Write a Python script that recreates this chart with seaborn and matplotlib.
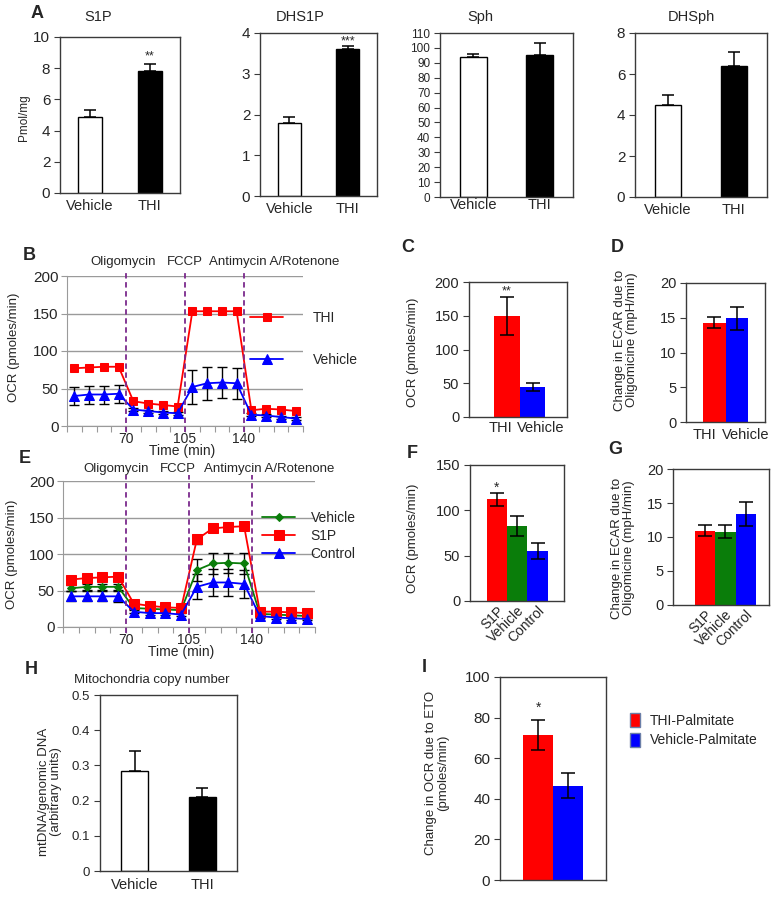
import numpy as np
import pandas as pd
import matplotlib
matplotlib.use("Agg")
import matplotlib.pyplot as plt
from matplotlib.patches import Patch
import seaborn as sns

sns.set_style("white")
plt.rcParams['font.family'] = ['Liberation Sans', 'DejaVu Sans']

W, H = 779, 898

# ==========================================
# DATA
# ==========================================
groups_a = ["Vehicle", "THI"]
s1p_mean = [4.9, 7.8]
s1p_err = [0.4, 0.5]
dhs1p_mean = [1.8, 3.6]
dhs1p_err = [0.15, 0.08]
sph_mean = [94, 95]
sph_err = [2, 8]
dhsph_mean = [4.5, 6.4]
dhsph_err = [0.5, 0.65]

time_labels = ["70", "105", "140"]
b_thi = [77, 78, 79, 79, 33, 30, 28, 26, 153, 153, 153, 153, 21, 23, 22, 20]
b_vehicle = [40, 42, 42, 43, 22, 20, 18, 17, 52, 57, 58, 57, 15, 14, 12, 10]
b_vehicle_err = [12, 12, 12, 12, 2, 2, 2, 2, 23, 22, 21, 21, 2, 2, 2, 2]

e_s1p = [65, 67, 68, 69, 32, 29, 27, 26, 120, 135, 137, 138, 21, 21, 20, 19]
e_vehicle = [53, 55, 55, 55, 26, 25, 24, 23, 78, 87, 88, 87, 18, 17, 16, 15]
e_control = [42, 42, 42, 42, 21, 19, 19, 17, 55, 61, 61, 59, 15, 13, 12, 11]
e_s1p_err = [3, 3, 3, 3, 3, 3, 3, 3, 6, 4, 3, 4, 2, 2, 2, 2]
e_vehicle_err = [4, 4, 4, 4, 2, 2, 2, 2, 15, 15, 14, 14, 2, 2, 2, 2]
e_control_err = [7, 7, 7, 8, 2, 2, 2, 2, 17, 18, 18, 19, 2, 2, 2, 2]

c_groups = ["THI", "Vehicle"]
c_mean = [150, 45]
c_err = [28, 6]
d_mean = [14.3, 14.9]
d_err = [0.8, 1.7]

f_groups = ["S1P", "Vehicle", "Control"]
f_mean = [112, 83, 55]
f_err = [7, 11, 9]
g_mean = [10.9, 10.8, 13.4]
g_err = [0.8, 1.0, 1.8]

h_groups = ["Vehicle", "THI"]
h_mean = [0.283, 0.21]
h_err = [0.057, 0.025]

i_groups = ["THI-Palmitate", "Vehicle-Palmitate"]
i_mean = [71.5, 46.5]
i_err = [7.5, 6.0]

RED, BLUE, GREEN = "#ff0000", "#0000ff", "#0a7d0a"
PURPLE = "#7b2a8c"
EDGE = "#3a3a3a"

fig = plt.figure(figsize=(W / 100, H / 100), dpi=100)


def px_axes(l, t, r, b):
    return fig.add_axes([l / W, 1 - b / H, (r - l) / W, (b - t) / H])


def ftext(x, y, s, **kw):
    kw.setdefault("ha", "center")
    kw.setdefault("va", "center")
    fig.text(x / W, 1 - y / H, s, **kw)


def bar_panel(ax, groups, means, errs, colors, width, xlim, ylim, yticks,
              one_sided=False, edge=None, capsize=4, fs=10.5):
    df = pd.DataFrame({"group": groups, "value": means})
    sns.barplot(data=df, x="group", y="value", hue="group",
                palette=dict(zip(groups, colors)), width=width, saturation=1,
                edgecolor=edge if edge else "none", linewidth=1 if edge else 0,
                legend=False, errorbar=None, ax=ax)
    x = np.arange(len(groups))
    yerr = [np.zeros(len(errs)), errs] if one_sided else errs
    ax.errorbar(x, means, yerr=yerr, fmt="none", ecolor="black",
                elinewidth=1.1, capsize=capsize, capthick=1.1, zorder=5)
    ax.set_xlim(*xlim)
    ax.set_ylim(*ylim)
    ax.set_yticks(yticks)
    ax.set_xlabel("")
    ax.set_ylabel("")
    for s in ax.spines.values():
        s.set_color(EDGE)
        s.set_linewidth(1)
    ax.tick_params(axis="y", direction="out", length=4, width=0.8, color=EDGE,
                   labelsize=fs, pad=3, left=True)
    ax.tick_params(axis="x", length=0, labelsize=fs, pad=4)


def ocr_panel(ax, series):
    idx = np.arange(16)
    for name, vals, errs, color, marker, ms in series:
        if errs is not None:
            ax.errorbar(idx, vals, yerr=errs, fmt="none", ecolor="black",
                        elinewidth=1, capsize=3.5, capthick=1, zorder=2)
        df = pd.DataFrame({"t": idx, "ocr": vals})
        sns.lineplot(data=df, x="t", y="ocr", color=color, marker=marker,
                     markersize=ms, markeredgecolor=color, linewidth=1.3,
                     label=name, ax=ax, zorder=3)
    ax.set_xlim(-0.5, 15.5)
    ax.set_ylim(0, 200)
    ax.set_yticks([0, 50, 100, 150, 200])
    ax.set_xticks(np.arange(-0.5, 16, 1))
    labels = [""] * 17
    for k, lab in zip([4, 8, 12], time_labels):
        labels[k] = lab
    ax.set_xticklabels(labels)
    ax.set_xlabel("")
    ax.set_ylabel("")
    ax.yaxis.grid(True, color="#9a9a9a", lw=1)
    ax.set_axisbelow(True)
    ax.spines["top"].set_visible(False)
    ax.spines["right"].set_visible(False)
    ax.spines["left"].set_color("#9a9a9a")
    ax.spines["bottom"].set_color("#9a9a9a")
    ax.tick_params(axis="y", direction="out", length=4, color="#9a9a9a",
                   labelsize=11, pad=2, left=True)
    ax.tick_params(axis="x", direction="out", length=4, color="#9a9a9a",
                   labelsize=10, pad=0, bottom=True)
    for xv in (3.5, 7.5, 11.5):
        ax.axvline(xv, ymin=-0.04, ymax=1.04, clip_on=False, color=PURPLE,
                   ls=(0, (3, 2)), lw=1.3, zorder=4)


def rotate_labels(ax):
    ax.tick_params(axis="x", labelrotation=45, pad=2, labelsize=10)
    for lab in ax.get_xticklabels():
        lab.set_ha("right")
        lab.set_rotation_mode("anchor")


# ==========================================
# A. SPHINGOLIPID LEVELS
# ==========================================
wb = ["white", "black"]
ax = px_axes(60, 37, 180, 193)
bar_panel(ax, groups_a, s1p_mean, s1p_err, wb, 0.4, (-0.5, 1.5), (0, 10),
          [0, 2, 4, 6, 8, 10], one_sided=True, edge="black", fs=11)
ax.tick_params(axis="x", labelsize=10.5)
ax.text(1, 8.55, "**", ha="center", fontsize=9)

ax = px_axes(260, 33, 377, 196)
bar_panel(ax, groups_a, dhs1p_mean, dhs1p_err, wb, 0.4, (-0.5, 1.5), (0, 4),
          [0, 1, 2, 3, 4], one_sided=True, edge="black", fs=11)
ax.tick_params(axis="x", labelsize=10.5)
ax.text(1, 3.72, "***", ha="center", fontsize=9)

ax = px_axes(440, 33, 573, 197)
bar_panel(ax, groups_a, sph_mean, sph_err, wb, 0.4, (-0.5, 1.5), (0, 110),
          list(range(0, 111, 10)), one_sided=True, edge="black", fs=8.5)
ax.tick_params(axis="x", labelsize=10.5, pad=1)

ax = px_axes(635, 33, 767, 197)
bar_panel(ax, groups_a, dhsph_mean, dhsph_err, wb, 0.4, (-0.5, 1.5), (0, 8),
          [0, 2, 4, 6, 8], one_sided=True, edge="black", fs=11)
ax.tick_params(axis="x", labelsize=10.5)

for x, t in [(98, "S1P"), (300, "DHS1P"), (480, "Sph"), (691, "DHSph")]:
    ftext(x, 17, t, fontsize=10.5)
ftext(24, 118, "Pmol/mg", fontsize=8.5, rotation=90)

# ==========================================
# B. OCR, THI vs Vehicle
# ==========================================
ax = px_axes(67, 276, 303, 426)
ocr_panel(ax, [("THI", b_thi, None, RED, "s", 6),
               ("Vehicle", b_vehicle, b_vehicle_err, BLUE, "^", 6.5)])
ax.legend(loc="center left", bbox_to_anchor=(250 / W, 1 - 339 / H),
          bbox_transform=fig.transFigure, frameon=False, fontsize=10,
          borderpad=0, borderaxespad=0, handlelength=2.4, handletextpad=2.1,
          labelspacing=2.0)
ftext(182, 451, "Time (min)", fontsize=10)
ftext(14, 347, "OCR (pmoles/min)", fontsize=9.5, rotation=90)
for x, t in [(90, "Oligomycin"), (167, "FCCP"), (209, "Antimycin A/Rotenone")]:
    ftext(x, 262, t, fontsize=9.5, ha="left")

# ==========================================
# E. OCR, S1P vs Vehicle vs Control
# ==========================================
ax = px_axes(63, 481, 315, 627)
ocr_panel(ax, [("Vehicle", e_vehicle, e_vehicle_err, GREEN, "D", 4.5),
               ("S1P", e_s1p, e_s1p_err, RED, "s", 6.5),
               ("Control", e_control, e_control_err, BLUE, "^", 7)])
ax.legend(loc="center left", bbox_to_anchor=(262 / W, 1 - 536 / H),
          bbox_transform=fig.transFigure, frameon=False, fontsize=10,
          borderpad=0, borderaxespad=0, handlelength=2.4, handletextpad=1.1,
          labelspacing=0.3)
ftext(181, 652, "Time (min)", fontsize=10)
ftext(12, 554, "OCR (pmoles/min)", fontsize=9.5, rotation=90)
for x, t in [(83, "Oligomycin"), (160, "FCCP"), (204, "Antimycin A/Rotenone")]:
    ftext(x, 469, t, fontsize=9.5, ha="left")

# ==========================================
# C / D. Maximal OCR and ECAR (THI)
# ==========================================
ax = px_axes(469, 282, 567, 417)
bar_panel(ax, c_groups, c_mean, c_err, [RED, BLUE], 1.0, (-1.45, 2.33),
          (0, 200), [0, 50, 100, 150, 200], capsize=5)
ax.set_xticks([-0.25, 1.33])
ax.set_xticklabels(c_groups)
ax.tick_params(axis="x", pad=3)
ax.text(0, 182, "**", ha="center", fontsize=9)
ftext(413, 352, "OCR (pmoles/min)", fontsize=9.5, rotation=90)

ax = px_axes(686, 283, 765, 422)
bar_panel(ax, c_groups, d_mean, d_err, [RED, BLUE], 1.0, (-1.26, 2.24),
          (0, 20), [0, 5, 10, 15, 20], capsize=5)
ax.set_xticks([-0.45, 1.4])
ax.set_xticklabels(c_groups)
ax.tick_params(axis="x", pad=4)
ftext(626, 340, "Change in ECAR due to\nOligomicine (mpH/min)", fontsize=9.5,
      rotation=90, linespacing=1.1)

# ==========================================
# F / G. Maximal OCR and ECAR (S1P)
# ==========================================
ax = px_axes(470, 465, 564, 601)
bar_panel(ax, f_groups, f_mean, f_err, [RED, GREEN, BLUE], 1.0, (-1.33, 3.3),
          (0, 150), [0, 50, 100, 150], capsize=5)
rotate_labels(ax)
ax.text(0, 121, "*", ha="center", fontsize=10)
ftext(413, 538, "OCR (pmoles/min)", fontsize=9.5, rotation=90)

ax = px_axes(673, 469, 769, 605)
bar_panel(ax, f_groups, g_mean, g_err, [RED, GREEN, BLUE], 1.0, (-1.58, 3.15),
          (0, 20), [0, 5, 10, 15, 20], capsize=5)
rotate_labels(ax)
ftext(623, 548, "Change in ECAR due to\nOligomicine (mpH/min)", fontsize=9.5,
      rotation=90, linespacing=1.1)

# ==========================================
# H. Mitochondria copy number
# ==========================================
ax = px_axes(100, 695, 237, 871)
bar_panel(ax, h_groups, h_mean, h_err, wb, 0.4, (-0.52, 1.52), (0, 0.5),
          [0, 0.1, 0.2, 0.3, 0.4, 0.5], one_sided=True, edge="black", fs=9.5)
ax.set_yticklabels(["0", "0.1", "0.2", "0.3", "0.4", "0.5"])
ax.tick_params(axis="x", labelsize=10.5, pad=5)
ftext(152, 680, "Mitochondria copy number", fontsize=9.5)
ftext(50, 792, "mtDNA/genomic DNA\n(arbitrary units)", fontsize=9.5,
      rotation=90, linespacing=1.05)

# ==========================================
# I. OCR due to ETO
# ==========================================
ax = px_axes(500, 677, 606, 880)
bar_panel(ax, i_groups, i_mean, i_err, [RED, BLUE], 1.0, (-1.27, 2.26),
          (0, 100), [0, 20, 40, 60, 80, 100], capsize=5, fs=11)
ax.set_xticklabels([])
ax.text(0, 83, "*", ha="center", fontsize=10)
handles = [Patch(facecolor=RED, edgecolor="#6b7fa8", label=i_groups[0]),
           Patch(facecolor=BLUE, edgecolor="#6b7fa8", label=i_groups[1])]
ax.legend(handles=handles, loc="upper left", bbox_to_anchor=(630 / W, 1 - 713 / H),
          bbox_transform=fig.transFigure, frameon=False, fontsize=10,
          borderpad=0, borderaxespad=0, handlelength=0.75, handleheight=1.2,
          handletextpad=0.7, labelspacing=0.35)
ftext(437, 773, "Change in OCR due to ETO\n(pmoles/min)", fontsize=9.5,
      rotation=90, linespacing=1.1)

# panel letters
for x, y, t in [(37, 14, "A"), (29, 256, "B"), (408, 248, "C"), (617, 248, "D"),
                (25, 458, "E"), (412, 453, "F"), (615, 450, "G"), (31, 670, "H"),
                (424, 667, "I")]:
    ftext(x, y, t, fontsize=13, fontweight="bold")

plt.savefig("out.png", dpi=100)
plt.close()
